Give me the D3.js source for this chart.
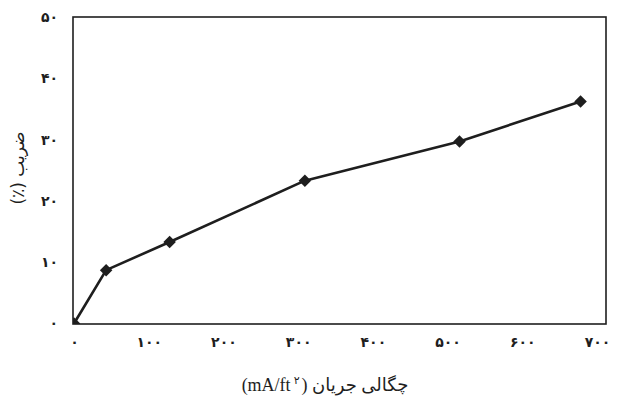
<!DOCTYPE html>
<html>
<head>
<meta charset="utf-8">
<script src="https://cdn.jsdelivr.net/npm/d3@7"></script>
<style>
  html, body { margin: 0; padding: 0; background: #fff; }
  svg { display: block; }
</style>
</head>
<body>
<svg id="chart" width="618" height="405"></svg>
<script>
// ---- data ----
const currentDensity = [0, 43, 128, 309, 516, 678];      // mA/ft²
const coefficient    = [0, 8.7, 13.3, 23.3, 29.7, 36.2]; // %
const xTickValues = [0, 100, 200, 300, 400, 500, 600, 700];
const xTickLabels = ["۰", "۱۰۰", "۲۰۰", "۳۰۰", "۴۰۰", "۵۰۰", "۶۰۰", "۷۰۰"];
const yTickValues = [0, 10, 20, 30, 40, 50];
const yTickLabels = ["۰", "۱۰", "۲۰", "۳۰", "۴۰", "۵۰"];
const xTitleUnit = "(mA/ft";
const xTitleSup = "۲";
const xTitleText = ") چگالی جریان";
const yTitle = "ضریب (٪)";

const ink = "#1e1e1e";
const svg = d3.select("#chart");
const frame = { left: 73, right: 606, top: 17, bottom: 324 };

const x = d3.scaleLinear().domain([0, 700]).range([74, 597]);
const y = d3.scaleLinear().domain([0, 50]).range([323.5, 17]);

// frame
svg.append("rect")
  .attr("x", frame.left).attr("y", frame.top)
  .attr("width", frame.right - frame.left).attr("height", frame.bottom - frame.top)
  .attr("fill", "none").attr("stroke", ink).attr("stroke-width", 1.6);

// axes (labels only; frame drawn above)
const xAxis = d3.axisBottom(x).tickValues(xTickValues)
  .tickFormat((d, i) => xTickLabels[i]).tickSize(0).tickPadding(13);
const gx = svg.append("g").attr("transform", `translate(0,${frame.bottom})`).call(xAxis);
gx.select(".domain").remove();
gx.selectAll("text").attr("font-family", "DejaVu Sans").attr("font-size", 14)
  .attr("font-weight", "bold").attr("fill", ink);

const yAxis = d3.axisLeft(y).tickValues(yTickValues)
  .tickFormat((d, i) => yTickLabels[i]).tickSize(0).tickPadding(15);
const gy = svg.append("g").attr("transform", `translate(${frame.left},0)`).call(yAxis);
gy.select(".domain").remove();
gy.selectAll("text").attr("font-family", "DejaVu Sans").attr("font-size", 14)
  .attr("font-weight", "bold").attr("fill", ink);

// clip
svg.append("clipPath").attr("id", "plotclip").append("rect")
  .attr("x", frame.left).attr("y", frame.top)
  .attr("width", frame.right - frame.left).attr("height", frame.bottom - frame.top);

const pts = currentDensity.map((d, i) => [d, coefficient[i]]);
const line = d3.line().x(d => x(d[0])).y(d => y(d[1]));
svg.append("path").datum(pts).attr("d", line)
  .attr("fill", "none").attr("stroke", ink).attr("stroke-width", 2.6)
  .attr("stroke-linejoin", "round");

const sym = d3.symbol().type(d3.symbolSquare).size(78);
svg.append("g").attr("clip-path", "url(#plotclip)")
  .selectAll("path").data(pts).join("path")
  .attr("d", sym)
  .attr("transform", d => `translate(${x(d[0])},${y(d[1])}) rotate(45)`)
  .attr("fill", ink);

// titles
const xt = svg.append("text")
  .attr("x", 325).attr("y", 391)
  .attr("text-anchor", "middle")
  .attr("direction", "ltr")
  .attr("font-family", "Liberation Serif, DejaVu Sans")
  .attr("font-size", 18).attr("fill", ink);
xt.append("tspan").text(xTitleUnit);
xt.append("tspan").attr("dx", 3).attr("dy", -7).attr("font-size", 11).text(xTitleSup);
xt.append("tspan").attr("dx", 2).attr("dy", 7).text(xTitleText);

svg.append("text")
  .attr("transform", "translate(24,168) rotate(-90)")
  .attr("text-anchor", "middle")
  .attr("direction", "rtl")
  .attr("font-family", "DejaVu Sans")
  .attr("font-size", 17).attr("fill", ink)
  .text(yTitle);
</script>
</body>
</html>
